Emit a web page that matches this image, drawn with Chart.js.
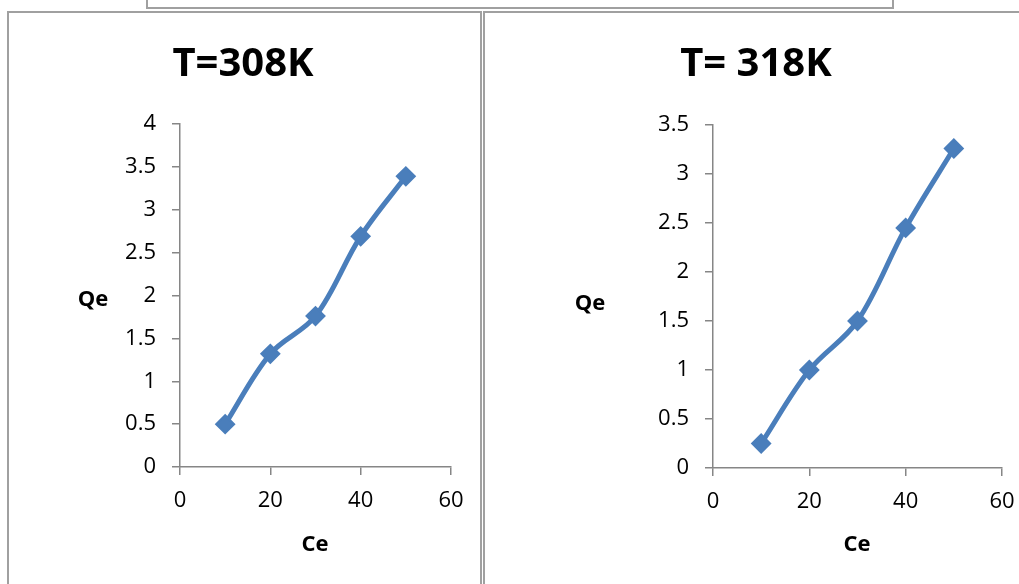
<!DOCTYPE html>
<html>
<head>
<meta charset="utf-8">
<script src="https://cdn.jsdelivr.net/npm/chart.js@4.4.1/dist/chart.umd.min.js"></script>
<style>
    html, body { margin:0; padding:0; background:#fff; overflow:hidden; }
    body { width:1019px; height:584px; position:relative; font-family:"Open Sans", sans-serif; }
    .caixaTopo { position:absolute; left:146px; top:-10px; width:744px; height:15px; border:2px solid #a0a0a0; }
    .painel { position:absolute; top:11px; height:600px; border:2px solid #a0a0a0; }
    .titulo { position:absolute; font-weight:bold; font-size:40px; color:#000; white-space:nowrap; transform:translateX(-50%); line-height:1; }
    .eixo { position:absolute; font-weight:bold; font-size:22px; color:#000; transform:translate(-50%,-50%); line-height:1; }
    canvas { position:absolute; top:0; }
</style>
</head>
<body>
<div class="caixaTopo"></div>
<div class="painel" style="left:7px; width:471px;"></div>
<div class="painel" style="left:483px; width:560px;"></div>

<canvas id="grafico308" width="484" height="584" style="left:0;"></canvas>
<canvas id="grafico318" width="535" height="584" style="left:484px;"></canvas>

<div class="titulo" style="left:243px; top:41px;">T=308K</div>
<div class="titulo" style="left:756px; top:41px;">T= 318K</div>
<div class="eixo" style="left:93px; top:297px;">Qe</div>
<div class="eixo" style="left:315px; top:542px;">Ce</div>
<div class="eixo" style="left:590px; top:301px;">Qe</div>
<div class="eixo" style="left:857px; top:542px;">Ce</div>

<script>
// ---------------- Dados ----------------
const ce = [10, 20, 30, 40, 50];
const qe308 = [0.5, 1.32, 1.76, 2.69, 3.39];
const qe318 = [0.25, 1.0, 1.5, 2.45, 3.26];
const xTicks = [0, 20, 40, 60];

const azul = '#4a7ebb';
const cinza = '#868686';

// ---------------- Gráfico ----------------
function criarGrafico(canvasId, valores, yMax, area) {
    const canvas = document.getElementById(canvasId);
    const pontos = ce.map((x, i) => ({ x: x, y: valores[i] }));

    new Chart(canvas, {
        type: 'line',
        data: {
            datasets: [{
                data: pontos,
                borderColor: azul,
                backgroundColor: azul,
                borderWidth: 5,
                tension: 0.35,
                pointStyle: 'rectRot',
                pointRadius: 9,
                pointBorderWidth: 2,
                pointBackgroundColor: azul,
                pointBorderColor: azul,
                clip: false
            }]
        },
        options: {
            responsive: false,
            animation: false,
            events: [],
            layout: { padding: { left: 0, top: area.top, right: area.right, bottom: 0 } },
            plugins: { legend: { display: false }, tooltip: { enabled: false }, title: { display: false } },
            scales: {
                x: {
                    type: 'linear',
                    min: 0, max: 60,
                    afterBuildTicks: s => { s.ticks = xTicks.map(v => ({ value: v })); },
                    afterFit: s => { s.height = area.bottom; s.paddingLeft = 0; s.paddingRight = 0; },
                    grid: { drawOnChartArea: false, color: cinza, tickLength: 8, lineWidth: 1.5 },
                    border: { color: cinza, width: 1.5 },
                    ticks: { color: '#000', padding: 13, font: { family: 'Open Sans', size: 22 } }
                },
                y: {
                    min: 0, max: yMax,
                    ticks: { stepSize: 0.5, color: '#000', padding: 16, font: { family: 'Open Sans', size: 22 },
                             callback: v => String(v) },
                    afterFit: s => { s.width = area.left; s.paddingTop = 0; s.paddingBottom = 0; },
                    grid: { drawOnChartArea: false, color: cinza, tickLength: 8, lineWidth: 1.5 },
                    border: { color: cinza, width: 1.5 }
                }
            }
        }
    });
}

criarGrafico('grafico308', qe308, 4, { left: 180, right: 33, top: 124, bottom: 117 });
criarGrafico('grafico318', qe318, 3.5, { left: 229, right: 17, top: 125, bottom: 116 });
</script>
</body>
</html>
